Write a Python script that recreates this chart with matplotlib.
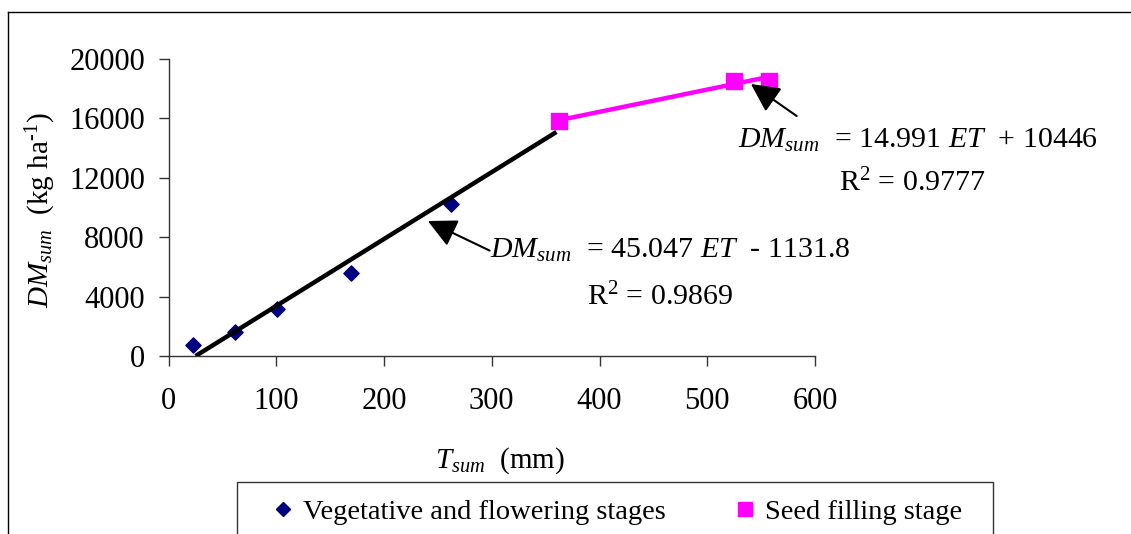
import matplotlib
matplotlib.use('Agg')
import matplotlib.pyplot as plt
import numpy as np
from matplotlib.lines import Line2D
from matplotlib.patches import Rectangle

plt.rcParams['font.family'] = ['Liberation Serif', 'DejaVu Serif']
plt.rcParams['mathtext.fontset'] = 'custom'
plt.rcParams['mathtext.rm'] = 'Liberation Serif'
plt.rcParams['mathtext.it'] = 'Liberation Serif:italic'

# cumulative transpiration (mm) vs cumulative dry matter (kg/ha)
veg_t = [23, 62, 101, 169, 262]
veg_dm = [740, 1600, 3160, 5590, 10240]
seed_t = [362, 525, 557]
seed_dm = [15830, 18520, 18520]

# fitted lines (slope, intercept) and the range each one covers
veg_fit = (45.047, -1131.8)
veg_fit_range = [25.1, 360]
seed_fit = (14.991, 10446)
seed_fit_range = [360, 557]

x_ticks = [0, 100, 200, 300, 400, 500, 600]
y_ticks = [0, 4000, 8000, 12000, 16000, 20000]

fig = plt.figure(figsize=(11.31, 5.34), dpi=100)
ax = fig.add_axes([168.5 / 1131, 1 - 356 / 534, (815 - 168.5) / 1131, (356 - 59) / 534])

ax.scatter(veg_t, veg_dm, marker='D', s=60, color='#000080', zorder=3)
ax.scatter(seed_t, seed_dm, marker='s', s=120, color='#FF00FF', zorder=3)

xv = np.array(veg_fit_range)
ax.plot(xv, veg_fit[0] * xv + veg_fit[1], color='black', lw=3.2, zorder=4,
        solid_capstyle='butt')
xs = np.array(seed_fit_range)
ax.plot(xs, seed_fit[0] * xs + seed_fit[1], color='#FF00FF', lw=3.2, zorder=4,
        solid_capstyle='butt')

ax.set_xlim(0, 600)
ax.set_ylim(0, 20000)
ax.set_xticks(x_ticks)
ax.set_yticks(y_ticks)
ax.tick_params(direction='out', length=7, width=1, color='#333333', labelsize=22)
ax.tick_params(axis='x', pad=15)
ax.tick_params(axis='y', pad=10)
for side in ['top', 'right']:
    ax.spines[side].set_visible(False)
for side in ['left', 'bottom']:
    ax.spines[side].set_color('#333333')
    ax.spines[side].set_linewidth(1)

ax.set_xlabel(r'$T_{sum}$  (mm)', fontsize=21)
ax.xaxis.set_label_coords(0.513, -0.30)
ax.set_ylabel(r'$DM_{sum}$  (kg ha$^{\text{-}1}$)', fontsize=21)
ax.yaxis.set_label_coords(-0.171, 0.49)

# equations with arrows pointing to the fitted lines
arrow = dict(arrowstyle='-|>,head_length=1.1,head_width=0.55', color='black',
             lw=1.5, mutation_scale=16, shrinkA=0, shrinkB=0)
ax.annotate('', xy=(240.7, 9090), xytext=(298, 7100), arrowprops=arrow,
            annotation_clip=False)
ax.annotate('', xy=(540.5, 18320), xytext=(583, 16160), arrowprops=arrow,
            annotation_clip=False)

eq_size = 21.5
ax.text(298, 7140, r'$DM_{sum}$  = %.3f $ET$  - %.1f' % (veg_fit[0], -veg_fit[1]),
        fontsize=eq_size, ha='left', va='center', clip_on=False)
ax.text(456, 3970, r'R$^2$ = 0.9869', fontsize=eq_size, ha='center', va='center',
        clip_on=False)
ax.text(529, 14550, r'$DM_{sum}$  = %.3f $ET$  + %d' % (seed_fit[0], seed_fit[1]),
        fontsize=eq_size, ha='left', va='center', clip_on=False)
ax.text(690, 11650, r'R$^2$ = 0.9777', fontsize=eq_size, ha='center', va='center',
        clip_on=False)

# legend in a box running off the bottom edge
fig.add_artist(Rectangle((237 / 1131, -0.1), (993 - 237) / 1131, 0.1 + 1 - 482 / 534,
                         transform=fig.transFigure, fill=False, edgecolor='#333333', lw=1))
handles = [
    Line2D([], [], marker='D', ls='none', color='#000080', markersize=7.5),
    Line2D([], [], marker='s', ls='none', color='#FF00FF', markersize=10),
]
fig.legend(handles, ['Vegetative and flowering stages', 'Seed filling stage'],
           loc='center left', bbox_to_anchor=(240 / 1131, 1 - 512 / 534), ncol=2,
           frameon=False, fontsize=20.5, handletextpad=0.1, columnspacing=2.2,
           handlelength=1.2)

# outer frame of the figure
fig.add_artist(Line2D([8 / 1131, 8 / 1131], [0, 1 - 12 / 534], transform=fig.transFigure,
                      color='black', lw=1))
fig.add_artist(Line2D([8 / 1131, 1], [1 - 12 / 534, 1 - 12 / 534], transform=fig.transFigure,
                      color='black', lw=1))

fig.savefig('out.png', dpi=100)
